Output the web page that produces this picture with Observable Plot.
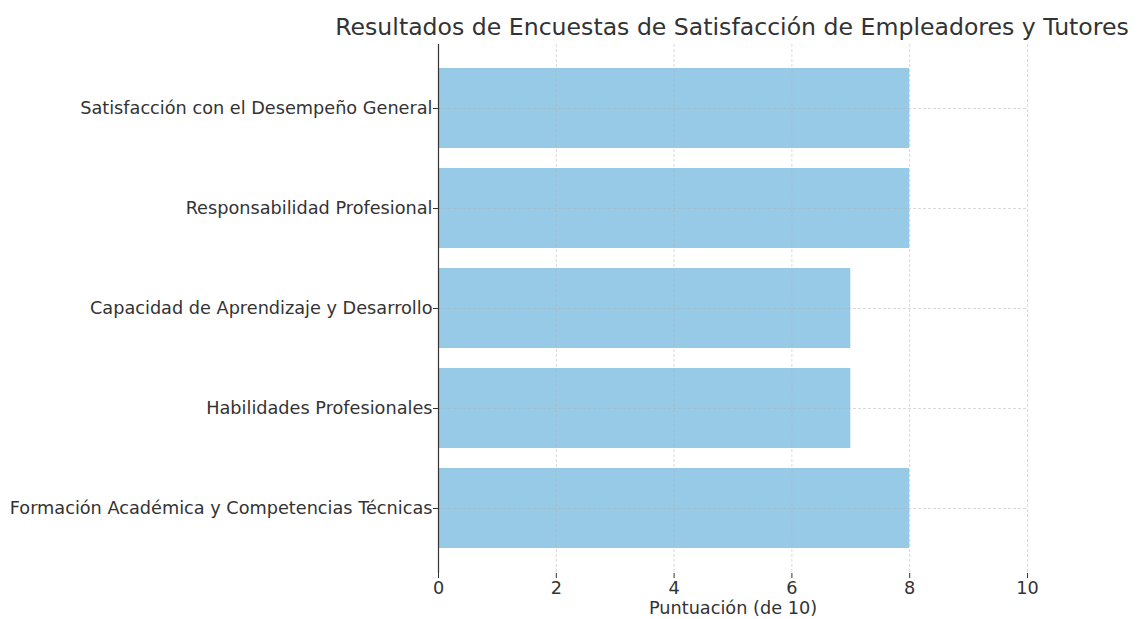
<!DOCTYPE html>
<html><head><meta charset="utf-8">
<script src="https://cdn.jsdelivr.net/npm/d3@7"></script>
<script src="https://cdn.jsdelivr.net/npm/@observablehq/plot@0.6"></script>
<style>
body{margin:0;background:#fff;font-family:"DejaVu Sans",sans-serif;}
#title{height:44px;width:1138px;position:relative;}
#title span{position:absolute;left:732px;top:27px;transform:translate(-50%,-50%);font-size:23.6px;color:#333;white-space:nowrap;}
</style></head>
<body>
<div id="title"><span>Resultados de Encuestas de Satisfacción de Empleadores y Tutores</span></div>
<div id="chart"></div>
<script>
const categories = [
  "Satisfacción con el Desempeño General",
  "Responsabilidad Profesional",
  "Capacidad de Aprendizaje y Desarrollo",
  "Habilidades Profesionales",
  "Formación Académica y Competencias Técnicas"
];
const scores = [8, 8, 7, 7, 8];
const xTicks = [0, 2, 4, 6, 8, 10];
const xLabel = "Puntuación (de 10)";

const data = categories.map((c, i) => ({category: c, score: scores[i]}));

const chart = Plot.plot({
  width: 1138,
  height: 575,
  marginLeft: 438,
  marginRight: 111,
  marginTop: 0,
  marginBottom: 46,
  style: {fontFamily: "DejaVu Sans, sans-serif", fontSize: "17.7px", color: "#333", background: "#fff", overflow: "visible"},
  x: {domain: [0, 10], ticks: xTicks, label: null},
  y: {domain: categories, padding: 0.2, insetTop: 3, insetBottom: 4, label: null},
  marks: [
    Plot.barX(data, {y: "category", x: "score", fill: "#96CAE6"}),
    Plot.gridX(xTicks, {stroke: "#b0b0b0", strokeOpacity: 0.6, strokeDasharray: "3,2", strokeWidth: 0.8}),
    Plot.gridY(categories, {stroke: "#b0b0b0", strokeOpacity: 0.6, strokeDasharray: "3,2", strokeWidth: 0.8}),
    Plot.axisX(xTicks, {tickSize: 5, tickPadding: 3, fontSize: 17.7, stroke: "#333", fill: "#333"}),
    Plot.axisX({ticks: [], label: xLabel, labelAnchor: "center", labelArrow: "none", labelOffset: 40, fontSize: 17.7, fill: "#333"}),
    Plot.axisY(categories, {tickSize: 5, tickPadding: 1, fontSize: 17.7, stroke: "#333", fill: "#333"}),
    Plot.ruleX([0], {stroke: "#333", strokeWidth: 1.2}),
    Plot.ruleY([0], {stroke: "#333", strokeWidth: 1.2, x1: 0, x2: 10})
  ]
});
document.getElementById("chart").appendChild(chart);
</script>
</body></html>
